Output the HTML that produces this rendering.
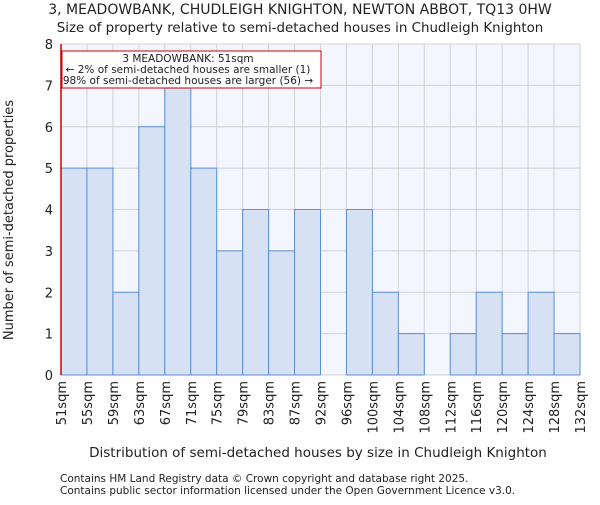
<!DOCTYPE html>
<html><head><meta charset="utf-8"><style>
body{margin:0;background:#fff;font-family:"Liberation Sans","DejaVu Sans",sans-serif}
svg text{font-family:"DejaVu Sans","Liberation Sans",sans-serif}
</style></head><body>
<svg id="c" width="600" height="500" xmlns="http://www.w3.org/2000/svg">
<text x="300" y="14" text-anchor="middle" font-size="14" fill="#222">3, MEADOWBANK, CHUDLEIGH KNIGHTON, NEWTON ABBOT, TQ13 0HW</text>
<text x="300" y="32" text-anchor="middle" font-size="13.4" fill="#222">Size of property relative to semi-detached houses in Chudleigh Knighton</text>
<rect x="61" y="44" width="519" height="331" fill="#f3f6fe"/>
<g id="grid"></g><g id="bars"></g><g id="axes"></g>
<line x1="61" y1="44" x2="61" y2="375" stroke="#cc0000" stroke-width="1.5"/>
<rect x="62" y="51" width="259" height="37" fill="#fff" stroke="#cc0000" stroke-width="1"/>
<text x="188" y="62" text-anchor="middle" font-size="10.5" fill="#222">3 MEADOWBANK: 51sqm</text>
<text x="188" y="73" text-anchor="middle" font-size="10.5" fill="#222">← 2% of semi-detached houses are smaller (1)</text>
<text x="188" y="84" text-anchor="middle" font-size="10.5" fill="#222">98% of semi-detached houses are larger (56) →</text>
<text x="318" y="457" text-anchor="middle" font-size="13.5" fill="#222">Distribution of semi-detached houses by size in Chudleigh Knighton</text>
<text transform="translate(13,220) rotate(-90)" text-anchor="middle" font-size="13" fill="#222">Number of semi-detached properties</text>
<text x="60" y="482" font-size="10.5" fill="#222">Contains HM Land Registry data © Crown copyright and database right 2025.</text>
<text x="60" y="494" font-size="10.5" fill="#222">Contains public sector information licensed under the Open Government Licence v3.0.</text>
</svg>
<script>
const tickLabels=["51sqm","55sqm","59sqm","63sqm","67sqm","71sqm","75sqm","79sqm","83sqm","87sqm","92sqm","96sqm","100sqm","104sqm","108sqm","112sqm","116sqm","120sqm","124sqm","128sqm","132sqm"];
const counts=[5,5,2,6,7,5,3,4,3,4,0,4,2,1,0,1,2,1,2,1];
const yTicks=[0,1,2,3,4,5,6,7,8];
const NS="http://www.w3.org/2000/svg";
const X0=61,X1=580,Y0=375,Y1=44,YMAX=8;
const bw=(X1-X0)/counts.length;
const x=i=>X0+i*bw;
const y=v=>Y0-(v/YMAX)*(Y0-Y1);
function mk(t,a,p){const e=document.createElementNS(NS,t);for(const k in a)e.setAttribute(k,a[k]);p.appendChild(e);return e;}
const grid=document.getElementById('grid'),bars=document.getElementById('bars'),axes=document.getElementById('axes');
yTicks.forEach(v=>{
 const l=mk('line',{x1:X0,x2:X1,y1:y(v),y2:y(v),stroke:'#d0d0d0'},grid);
 
 
 const t=mk('text',{x:X0-8,y:y(v)+5,'text-anchor':'end','font-size':'13',fill:'#222'},axes);
 t.textContent=v;
 
 
});
tickLabels.forEach((s,i)=>{
 const l=mk('line',{x1:x(i),x2:x(i),y1:Y1,y2:Y0,stroke:'#d0d0d0'},grid);
 
 
 const t=mk('text',{transform:`translate(${x(i)+5},${Y0+6}) rotate(-90)`,'text-anchor':'end','font-size':'13',fill:'#222'},axes);
 t.textContent=s;
 
 
});
counts.forEach((v,i)=>{
 if(v<=0)return;
 const r=mk('rect',{x:x(i),y:y(v),width:bw,height:Y0-y(v),fill:'#d6e1f4',stroke:'#5b8fd6','stroke-width':1},bars);
 
 
});
</script>
</body></html>
